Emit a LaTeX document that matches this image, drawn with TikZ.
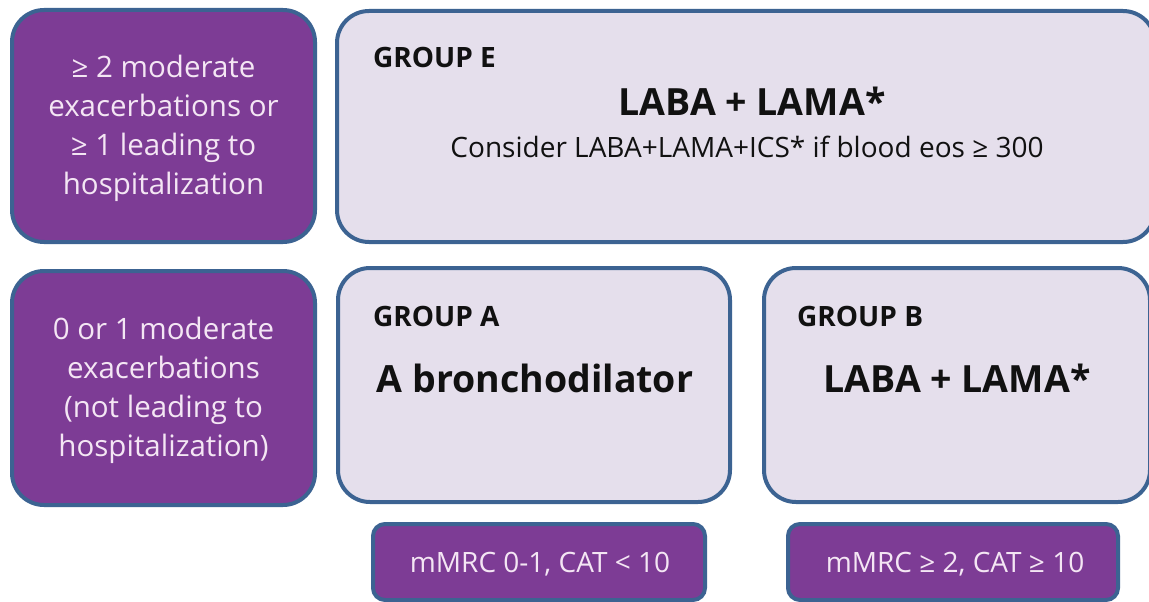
\documentclass[tikz,border=0pt]{standalone}
\usepackage{fontspec}
\setmainfont{Open Sans}
\definecolor{purp}{HTML}{7D3C95}
\definecolor{bord}{HTML}{3C6392}
\definecolor{lightfill}{HTML}{E5DFEC}
\definecolor{ptext}{HTML}{F4E6F4}
\definecolor{dtext}{HTML}{111111}
\tikzset{
  pbox/.style={draw=bord, fill=purp, line width=4pt, rounded corners=32pt, inner sep=0pt},
  lbox/.style={draw=bord, fill=lightfill, line width=4pt, rounded corners=32pt, inner sep=0pt},
  sbox/.style={draw=bord, fill=purp, line width=4pt, rounded corners=12pt, inner sep=0pt},
  ptxt/.style={text=ptext, align=center, font=\fontsize{29.5}{39}\selectfont, inner sep=0pt},
  grp/.style={text=dtext, anchor=west, font=\fontsize{28}{32}\bfseries\selectfont, inner sep=0pt},
  big/.style={text=dtext, font=\fontsize{37.5}{44}\bfseries\selectfont, inner sep=0pt},
  small/.style={text=dtext, font=\fontsize{28}{32}\selectfont, inner sep=0pt},
  stxt/.style={text=ptext, font=\fontsize{28}{32}\selectfont, inner sep=0pt}
}
\begin{document}
\begin{tikzpicture}[x=1pt,y=-1pt]
\useasboundingbox (0,0) rectangle (1149,602);
\fill[white] (0,0) rectangle (1149,602);
% boxes
\node[pbox, minimum width=303pt, minimum height=232pt] (p1) at (163.5,126) {};
\node[lbox, minimum width=818pt, minimum height=231pt] (ge) at (746,126.5) {};
\node[pbox, minimum width=303pt, minimum height=234pt] (p2) at (163.5,388) {};
\node[lbox, minimum width=392pt, minimum height=234pt] (ga) at (534,385) {};
\node[lbox, minimum width=386pt, minimum height=234pt] (gb) at (957,385) {};
\node[sbox, minimum width=332pt, minimum height=76pt] (sa) at (539,562) {};
\node[sbox, minimum width=330pt, minimum height=76pt] (sb) at (953,562) {};
% texts
\node[ptxt] (t1) at (163.5,128) {≥ 2 moderate\\exacerbations or\\≥ 1 leading to\\hospitalization};
\node[ptxt] (t2) at (163.5,390) {0 or 1 moderate\\exacerbations\\(not leading to\\hospitalization)};
\node[grp] (ge1) at (373,57) {GROUP E};
\node[big] (ge2) at (752,101) {LABA + LAMA*};
\node[small] (ge3) at (747,147) {Consider LABA+LAMA+ICS* if blood eos ≥ 300};
\node[grp] (ga1) at (373,316) {GROUP A};
\node[big] (ga2) at (535,378) {A bronchodilator};
\node[grp] (gb1) at (797,316) {GROUP B};
\node[big] (gb2) at (957,378) {LABA + LAMA*};
\node[stxt] (sa1) at (540,564) {mMRC 0-1, CAT < 10};
\node[stxt] (sb1) at (955,564) {mMRC ≥ 2, CAT ≥ 10};
\end{tikzpicture}
\end{document}
